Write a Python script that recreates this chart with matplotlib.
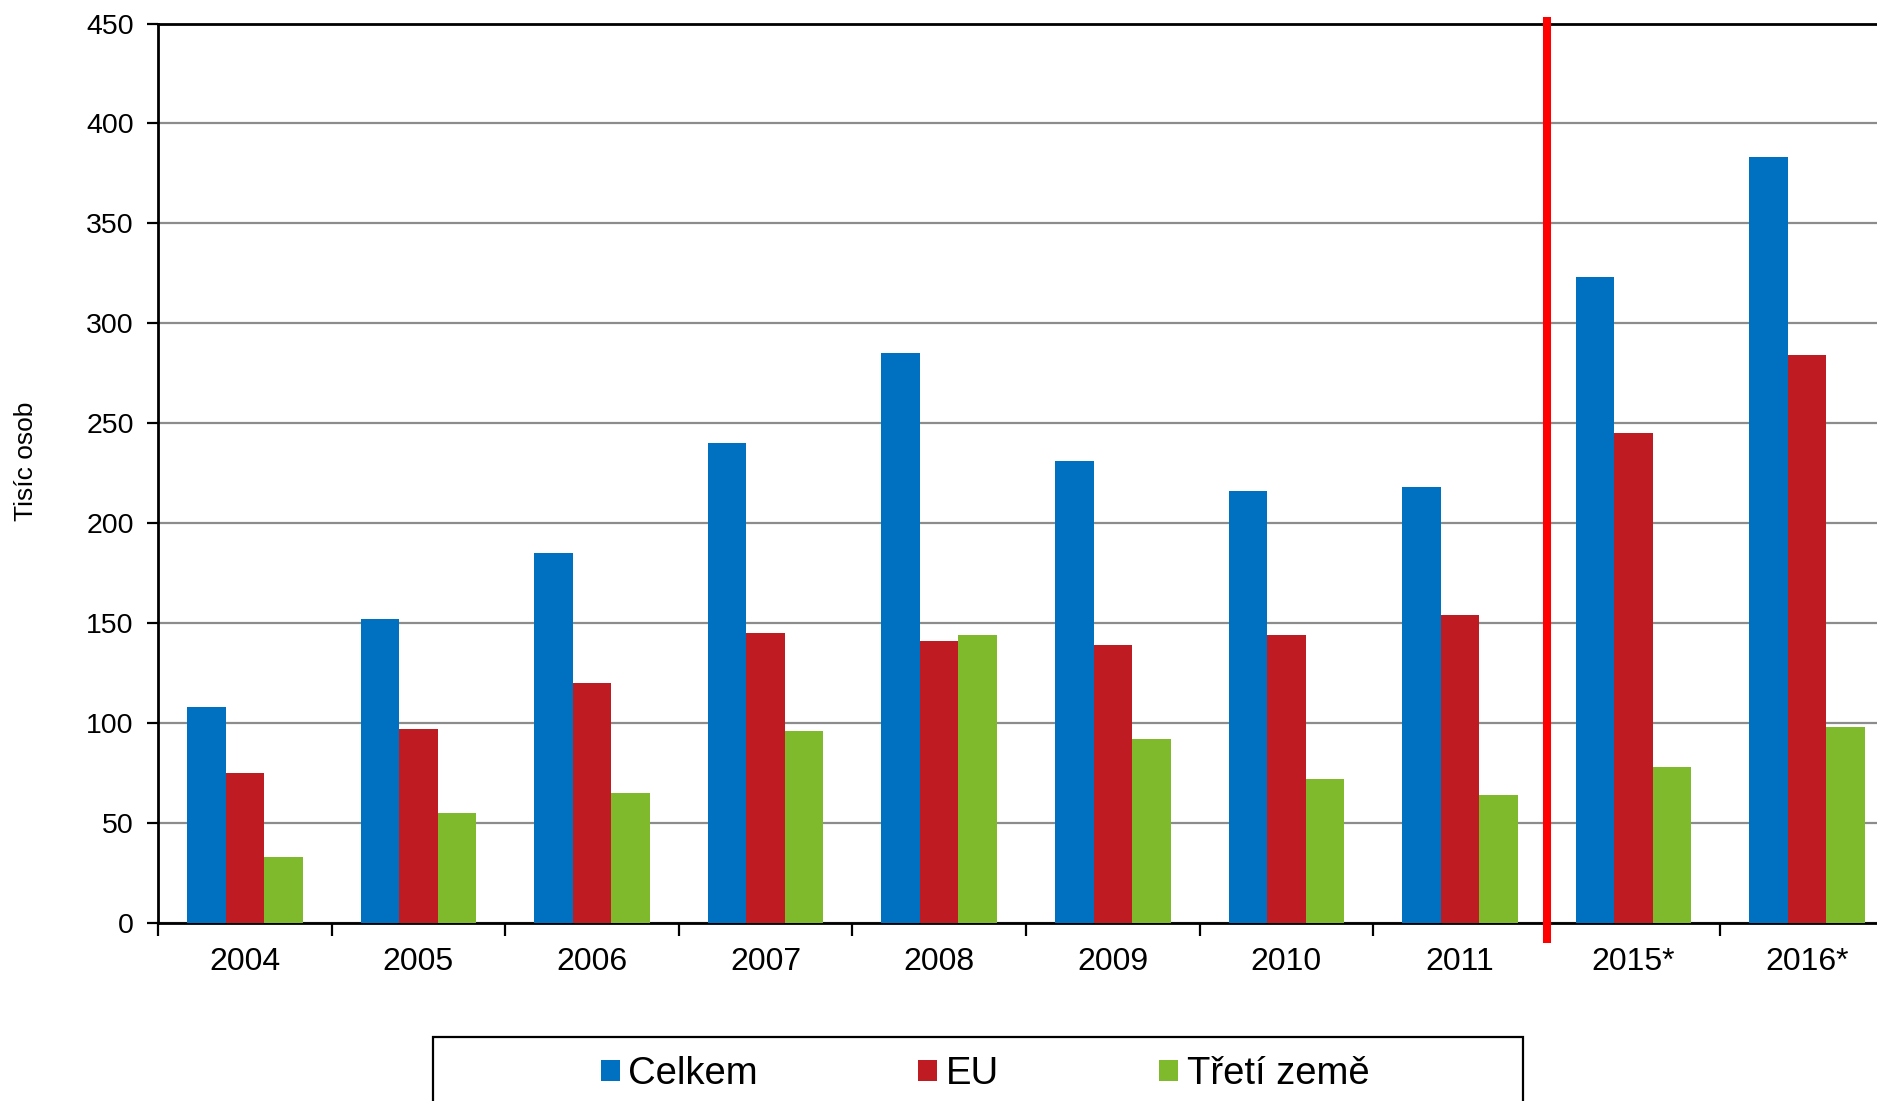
import numpy as np
import matplotlib
matplotlib.use("Agg")
import matplotlib.pyplot as plt
import matplotlib.transforms as mtransforms
from matplotlib.patches import Rectangle

plt.rcParams['font.family'] = ['Liberation Sans', 'DejaVu Sans']

# data (thousands of persons)
years = ['2004', '2005', '2006', '2007', '2008', '2009', '2010', '2011', '2015*', '2016*']
celkem = [108, 152, 185, 240, 285, 231, 216, 218, 323, 383]
eu = [75, 97, 120, 145, 141, 139, 144, 154, 245, 284]
treti = [33, 55, 65, 96, 144, 92, 72, 64, 78, 98]
series_names = ['Celkem', 'EU', 'Třetí země']
colors = ['#0070C0', '#BF1B22', '#7FBA2D']

W, H = 1877, 1101
fig = plt.figure(figsize=(W / 100, H / 100), dpi=100)
ax = fig.add_axes([158 / W, 1 - 923 / H, 1736 / W, (923 - 23.5) / H])

x = np.arange(len(years))
bw = 0.222
for i, (vals, c, name) in enumerate(zip([celkem, eu, treti], colors, series_names)):
    ax.bar(x + (i - 1) * bw, vals, bw, color=c, label=name, zorder=3)

ax.set_xlim(-0.5, len(years) - 0.5)
ax.set_ylim(0, 450)
ax.set_yticks(np.arange(0, 451, 50))
ax.yaxis.grid(True, color='#8c8c8c', linewidth=1.6, zorder=0)
ax.tick_params(axis='y', labelsize=20.5, length=8, width=1.6, pad=9.5)

# category boundaries as major ticks, labels on minor ticks
ax.set_xticks(np.arange(-0.5, len(years), 1.0))
ax.set_xticklabels([])
ax.set_xticks(x, minor=True)
ax.set_xticklabels(years, minor=True)
ax.tick_params(axis='x', which='major', length=9, width=1.6)
ax.tick_params(axis='x', which='minor', length=0, labelsize=23, pad=17)

for s in ['left', 'top', 'bottom', 'right']:
    ax.spines[s].set_linewidth(2)
    ax.spines[s].set_color('black')

fig.text(26 / W, 1 - 461 / H, 'Tisíc osob', rotation=90, ha='center', va='center',
         fontsize=19)

# red separator between 2011 and 2015
trans = mtransforms.blended_transform_factory(ax.transData, fig.transFigure)
ax.plot([7.5, 7.5], [1 - 17 / H, 1 - 943 / H], color='#FF0000', linewidth=5.8,
        transform=trans, clip_on=False, zorder=5, solid_capstyle='butt')

# legend frame (cut off at bottom edge)
fig.patches.append(Rectangle((433 / W, -0.05), 1090 / W, 0.05 + 1 - 1037 / H,
                             transform=fig.transFigure, fill=False,
                             edgecolor='black', linewidth=1.6))
fig.legend(loc='center', bbox_to_anchor=(985 / W, 1 - 1074 / H),
           ncol=3, frameon=False, fontsize=27.5, handlelength=0.5, handleheight=0.5,
           handletextpad=0.22, columnspacing=4.2)

fig.savefig('out.png', dpi=100)
